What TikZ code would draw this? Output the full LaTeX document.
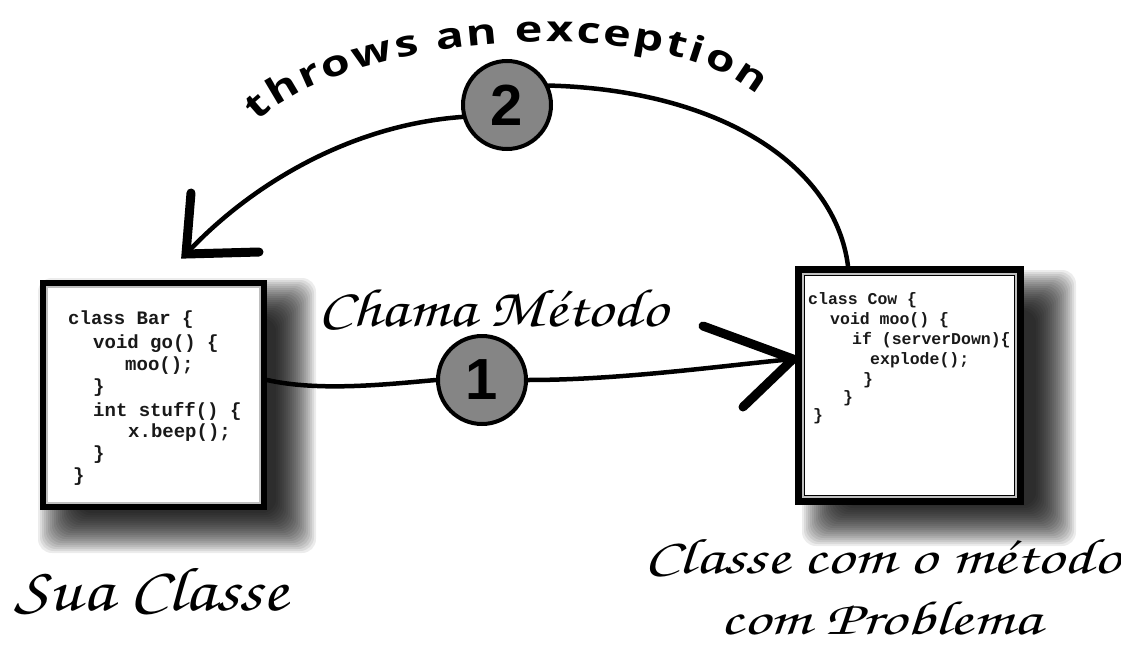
\documentclass[tikz,border=0pt]{standalone}
\usepackage{graphicx}
\usepackage{fontspec}
\newfontfamily\scriptf{TeX Gyre Chorus}
\newfontfamily\throwf{Open Sans}[FakeStretch=1.3]
\newfontfamily\numf{Liberation Sans}
\newfontfamily\codef{Liberation Mono}
\usetikzlibrary{decorations.text,calc}
\definecolor{circfill}{gray}{0.52}
\tikzset{
  codebox/.style={draw=black, fill=white, inner sep=0pt},
  innerframe/.style={draw=black!25, line width=1.2pt},
  codeL/.style={anchor=mid west, inner sep=0pt, font=\codef\bfseries\fontsize{19}{19}\selectfont, text=black!90},
  codeR/.style={anchor=mid west, inner sep=0pt, font=\codef\bfseries\fontsize{16.5}{16.5}\selectfont, text=black!90},
  numcirc/.style={circle, draw=black, line width=4pt, fill=circfill, minimum size=88pt, inner sep=0pt, font=\numf\bfseries\fontsize{58}{58}\selectfont},
  conn/.style={line width=4.5pt, line cap=round},
  headstroke/.style={line width=9pt, line cap=round, line join=miter},
  scriptlbl/.style={inner sep=0pt, anchor=base},
  shadowlayer/.style={fill=black, opacity=0.075, rounded corners=14pt}
}
\begin{document}
\begin{tikzpicture}[x=1pt,y=-1pt]
\useasboundingbox (0,0) rectangle (1121,650);
\fill[white] (0,0) rectangle (1121,650);
% shadows
\foreach \d in {-20,-18,...,20}{
  \fill[shadowlayer] (58-\d,298-\d) rectangle (296+\d,533+\d);
  \fill[shadowlayer] (822-\d,290-\d) rectangle (1056+\d,526+\d);
}
% boxes
\node[codebox, line width=8pt, minimum width=219pt, minimum height=222pt] (bar) at (153.5,395) {};
\node[codebox, line width=10pt, minimum width=219pt, minimum height=229pt] (cow) at (909.5,385.5) {};
\draw[innerframe] ($(bar.north west)+(7,7)$) rectangle ($(bar.south east)+(-7,-7)$);
\draw[innerframe] ($(cow.north west)+(8,8)$) rectangle ($(cow.south east)+(-8,-8)$);
% code left
\node[codeL] (l1) at (68,322) {class Bar \{};
\node[codeL] (l2) at (93,346) {void go() \{};
\node[codeL] (l3) at (125,368) {moo();};
\node[codeL] (l4) at (93,390) {\}};
\node[codeL] (l5) at (93,414) {int stuff() \{};
\node[codeL] (l6) at (128,435) {x.beep();};
\node[codeL] (l7) at (93,457) {\}};
\node[codeL] (l8) at (73,479) {\}};
% code right
\node[codeR] (r1) at (808,302) {class Cow \{};
\node[codeR] (r2) at (830,322) {void moo() \{};
\node[codeR] (r3) at (852,342) {if (serverDown)\{};
\node[codeR] (r4) at (870,362) {explode();};
\node[codeR] (r5) at (863,382) {\}};
\node[codeR] (r6) at (843,400) {\}};
\node[codeR] (r7) at (813,418) {\}};
% circles
\node[numcirc] (c1) at (482,380) {1};
\node[numcirc] (c2) at (507,105) {2};
% connector 1
\coordinate (tip1) at (793,359);
\coordinate (h1a) at (703,326);
\coordinate (h1b) at (743,407);
\draw[conn] (bar.east |- c1) .. controls (320,392) and (390,384) .. (c1.west);
\draw[conn] (c1.east) .. controls (620,380) and (720,366) .. (tip1);
\draw[headstroke] (h1a) -- (tip1) -- (h1b);
% connector 2
\coordinate (s2) at ($(cow.north west)+(53,0)$);
\coordinate (tip2) at (186,254);
\coordinate (h2a) at (191,193);
\coordinate (h2b) at (259,252);
\draw[conn] (s2) .. controls (835,165) and (720,90) .. (c2.25);
\draw[conn] (c2.195) .. controls (350,125) and (250,185) .. (tip2);
\draw[headstroke] (h2a) -- (tip2) -- (h2b);
% curved label
\path[decorate, decoration={text along path, text align={fit to path},
  text={|\throwf\bfseries\fontsize{36}{36}\selectfont|throws an exception}}]
  (258,122) .. controls (335,40) and (650,5) .. (757,95);
% labels
\node[scriptlbl, font=\scriptf\fontsize{54}{54}\selectfont] (lblcall) at (493,326) {\scalebox{1.2}[1]{Chama Método}};
\node[scriptlbl, font=\scriptf\fontsize{62}{62}\selectfont] (lblsua) at (151,610) {\scalebox{1.18}[1]{Sua Classe}};
\node[scriptlbl, font=\scriptf\fontsize{50}{50}\selectfont] (lblcow1) at (882,573) {\scalebox{1.34}[1]{Classe com o método}};
\node[scriptlbl, font=\scriptf\fontsize{48}{48}\selectfont] (lblcow2) at (881,634) {\scalebox{1.38}[1]{com Problema}};
\end{tikzpicture}
\end{document}
